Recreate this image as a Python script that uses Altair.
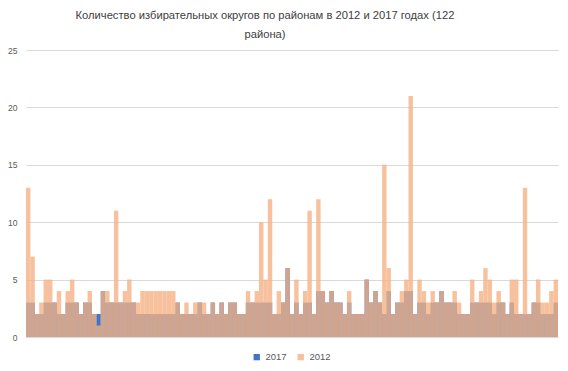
import altair as alt
import pandas as pd

# 2012 and 2017 number of electoral districts per region (121 bars shown)
v2012 = [13, 7, 2, 3, 5, 5, 3, 4, 2, 4, 5, 3, 2, 3, 4, 2, 1, 4, 4, 3,
         11, 3, 4, 5, 3, 3, 4, 4, 4, 4, 4, 4, 4, 4, 3, 2, 3, 2, 3, 3,
         3, 2, 3, 2, 3, 2, 3, 3, 2, 2, 4, 3, 4, 10, 5, 12, 2, 4, 3, 6,
         2, 5, 2, 4, 11, 2, 12, 4, 3, 4, 3, 3, 2, 4, 2, 2, 2, 5, 3, 4,
         3, 15, 6, 2, 3, 4, 5, 21, 2, 5, 4, 3, 4, 3, 4, 3, 3, 4, 3, 2,
         2, 5, 3, 4, 6, 5, 3, 4, 3, 2, 5, 5, 2, 13, 2, 3, 5, 3, 3, 4, 5]
v2017 = [3, 3, 2, 2, 3, 3, 3, 2, 2, 3, 3, 3, 2, 3, 3, 2, 2, 4, 3, 3,
         3, 3, 3, 3, 3, 2, 2, 2, 2, 2, 2, 2, 2, 2, 3, 2, 2, 2, 2, 3,
         2, 2, 3, 2, 3, 2, 3, 3, 2, 2, 3, 3, 3, 3, 3, 3, 2, 2, 3, 6,
         2, 3, 2, 3, 3, 2, 4, 4, 3, 4, 3, 3, 2, 3, 2, 2, 2, 5, 3, 4,
         3, 2, 4, 2, 3, 3, 4, 4, 2, 3, 3, 2, 3, 3, 4, 3, 3, 3, 2, 2,
         2, 3, 3, 3, 3, 3, 2, 3, 3, 2, 3, 2, 2, 2, 2, 3, 3, 2, 2, 2, 3]
years = ["2017", "2012"]
colors = ["#4472C4", "#F4B183"]
y_ticks = [0, 5, 10, 15, 20, 25]
title_lines = ["Количество избирательных округов по районам в 2012 и 2017 годах (122",
               "района)"]

rows = []
for i, v in enumerate(v2017):
    rows.append({"idx": i, "year": "2017", "value": v})
for i, v in enumerate(v2012):
    rows.append({"idx": i, "year": "2012", "value": v})
df = pd.DataFrame(rows)

FONT = "Liberation Sans"
leg = dict(orient="none", legendX=226, legendY=302, direction="horizontal",
           symbolType="square", symbolSize=40, symbolStrokeWidth=0,
           labelFontSize=9.5, labelColor="#595959", labelFont=FONT,
           title=None, columnPadding=9, labelOffset=4)

chart = alt.Chart(df).mark_bar().encode(
    x=alt.X("idx:O", scale=alt.Scale(paddingInner=0, paddingOuter=0), axis=None),
    y=alt.Y("value:Q", stack=None,
            scale=alt.Scale(domain=[0, 25], nice=False),
            axis=alt.Axis(values=y_ticks, title=None, domain=False, ticks=False,
                          gridColor="#D9D9D9", gridWidth=1, labelColor="#595959",
                          labelFontSize=8.5, labelFont=FONT, labelPadding=9)),
    color=alt.Color("year:N", scale=alt.Scale(domain=years, range=colors),
                    legend=alt.Legend(**leg)),
    opacity=alt.Opacity("year:N", scale=alt.Scale(domain=years, range=[1, 0.8]),
                        legend=alt.Legend(**leg)),
).properties(
    width=532, height=287,
    autosize="none",
    padding={"left": 18, "top": 42, "right": 2, "bottom": 28},
    title=alt.Title(title_lines, fontSize=11.2, fontWeight="normal", color="#404040",
                    font=FONT, lineHeight=19, anchor="middle", dx=-27, offset=6),
).configure_view(stroke=None)

chart.save("out.html", embed_options={"renderer": "svg", "actions": False})
